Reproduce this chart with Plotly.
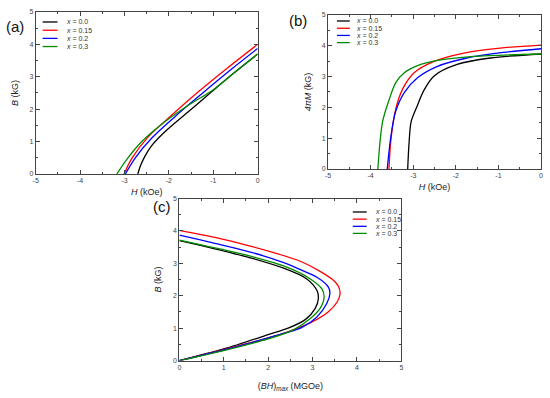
import plotly.graph_objects as go

# ---------------- data ----------------
series_names = ["0.0", "0.15", "0.2", "0.3"]
series_colors = ["#000000", "#ff0000", "#0000ff", "#008c00"]

# (a) B vs H
a_H_00 = [-2.70, -2.64, -2.55, -2.40, -2.09, -1.57, -1.05, -0.53, 0.0]
a_B_00 = [0.00, 0.25, 0.52, 0.85, 1.30, 1.91, 2.52, 3.12, 3.70]
a_H_15 = [-3.01, -2.83, -2.46, -1.94, -1.35, -0.68, 0.0]
a_B_15 = [0.00, 0.49, 1.15, 1.81, 2.52, 3.27, 4.00]
a_H_20 = [-2.98, -2.76, -2.39, -1.87, -1.27, -0.60, 0.0]
a_B_20 = [0.00, 0.49, 1.10, 1.76, 2.46, 3.22, 3.87]
a_H_30 = [-3.17, -2.98, -2.61, -2.09, -1.57, -1.00, -0.50, 0.0]
a_B_30 = [0.00, 0.39, 1.00, 1.61, 2.11, 2.60, 3.15, 3.70]

# (b) 4piM vs H
b_H_00 = [-3.13, -3.10, -3.05, -2.92, -2.75, -2.51, -1.97, -1.19, 0.0]
b_M_00 = [0.00, 0.80, 1.53, 2.00, 2.55, 3.02, 3.39, 3.60, 3.73]
b_H_15 = [-3.57, -3.52, -3.41, -3.25, -2.98, -2.51, -1.81, -0.96, 0.0]
b_M_15 = [0.00, 1.00, 1.95, 2.59, 3.12, 3.49, 3.76, 3.92, 4.02]
b_H_20 = [-3.61, -3.52, -3.41, -3.21, -2.90, -2.43, -1.74, -0.88, 0.0]
b_M_20 = [0.00, 1.10, 1.88, 2.48, 2.96, 3.33, 3.60, 3.78, 3.90]
b_H_30 = [-3.83, -3.72, -3.56, -3.41, -3.21, -2.90, -2.43, -1.58, 0.0]
b_M_30 = [0.00, 1.53, 2.27, 2.80, 3.12, 3.35, 3.52, 3.65, 3.73]

# (c) B vs (BH)
c_BH_00 = [0.0, 1.0, 2.0, 2.45, 2.85, 3.06, 3.13, 3.10, 2.87, 2.35, 1.60, 0.80, 0.0]
c_B_00 = [0.0, 0.36, 0.80, 1.00, 1.28, 1.61, 1.91, 2.16, 2.52, 2.85, 3.17, 3.45, 3.70]
c_BH_15 = [0.0, 1.0, 2.0, 2.5, 3.0, 3.35, 3.55, 3.62, 3.58, 3.45, 3.15, 2.75, 2.20, 1.55, 0.80, 0.0]
c_B_15 = [0.0, 0.34, 0.70, 0.92, 1.20, 1.50, 1.80, 2.06, 2.30, 2.50, 2.77, 3.05, 3.30, 3.55, 3.80, 4.02]
c_BH_20 = [0.0, 1.0, 2.0, 2.4, 2.75, 3.10, 3.32, 3.39, 3.36, 3.10, 2.70, 2.35, 1.60, 0.80, 0.0]
c_B_20 = [0.0, 0.33, 0.70, 0.86, 1.02, 1.35, 1.76, 2.06, 2.26, 2.57, 2.82, 3.02, 3.35, 3.62, 3.87]
c_BH_30 = [0.0, 1.0, 2.0, 2.57, 2.95, 3.17, 3.26, 3.21, 2.95, 2.35, 1.60, 0.80, 0.0]
c_B_30 = [0.0, 0.31, 0.67, 0.95, 1.30, 1.61, 1.96, 2.21, 2.52, 2.92, 3.22, 3.48, 3.72]

x_ticks_neg = [-5, -4, -3, -2, -1, 0]
x_ticklabels_neg = ["-5", "-4", "-3", "-2", "-1", "0"]
ticks_pos = [0, 1, 2, 3, 4, 5]
ticklabels_pos = ["0", "1", "2", "3", "4", "5"]

a_data = [(a_H_00, a_B_00), (a_H_15, a_B_15), (a_H_20, a_B_20), (a_H_30, a_B_30)]
b_data = [(b_H_00, b_M_00), (b_H_15, b_M_15), (b_H_20, b_M_20), (b_H_30, b_M_30)]
c_data = [(c_BH_00, c_B_00), (c_BH_15, c_B_15), (c_BH_20, c_B_20), (c_BH_30, c_B_30)]

W, H = 550, 398
FONT = "Liberation Sans, Arial, sans-serif"

fig = go.Figure()


def px_dom_x(x0, x1):
    return [x0 / W, x1 / W]


def px_dom_y(y0, y1):
    return [1 - y1 / H, 1 - y0 / H]


for data, xa, ya in [(a_data, "x", "y"), (b_data, "x2", "y2"), (c_data, "x3", "y3")]:
    for (xs, ys), col, nm in zip(data, series_colors, series_names):
        fig.add_trace(go.Scatter(
            x=xs, y=ys, mode="lines", xaxis=xa, yaxis=ya,
            line=dict(color=col, width=1.3, shape="spline", smoothing=0.9),
            name="x = " + nm, showlegend=False, hoverinfo="skip"))

axis_common = dict(
    showline=True, linecolor="#444", linewidth=1, mirror="allticks",
    ticks="inside", ticklen=4, tickcolor="#444", tickwidth=1,
    showgrid=False, zeroline=False, ticklabeloverflow="allow",
    tickfont=dict(size=7, color="#444", family=FONT),
    minor=dict(ticks="inside", ticklen=2, tickcolor="#444", dtick=0.5, showgrid=False),
)

title_font = dict(size=9, color="#222", family=FONT)

fig.update_layout(
    width=W, height=H, margin=dict(l=0, r=0, t=0, b=0),
    paper_bgcolor="white", plot_bgcolor="white", showlegend=False,
    xaxis=dict(axis_common, domain=px_dom_x(33, 257), range=[-5, 0], tickvals=x_ticks_neg,
               ticktext=x_ticklabels_neg, anchor="y",
               title=dict(text="<i>H</i> (kOe)", font=title_font, standoff=5)),
    yaxis=dict(axis_common, domain=px_dom_y(8, 173), range=[0, 5], tickvals=ticks_pos,
               ticktext=ticklabels_pos, anchor="x",
               title=dict(text="<i>B</i> (kG)", font=title_font, standoff=9)),
    xaxis2=dict(axis_common, domain=px_dom_x(328, 543), range=[-5, 0], tickvals=x_ticks_neg,
                ticktext=x_ticklabels_neg, anchor="y2",
                title=dict(text="<i>H</i> (kOe)", font=title_font, standoff=5)),
    yaxis2=dict(axis_common, domain=px_dom_y(11, 168), range=[0, 5], tickvals=ticks_pos,
                ticktext=ticklabels_pos, anchor="x2",
                title=dict(text="<i>4πM</i> (kG)", font=title_font, standoff=8)),
    xaxis3=dict(axis_common, domain=px_dom_x(178, 402), range=[0, 5], tickvals=ticks_pos,
                ticktext=ticklabels_pos, anchor="y3",
                title=dict(text="(<i>BH</i>)<sub><i>max</i></sub> (MGOe)", font=title_font, standoff=12)),
    yaxis3=dict(axis_common, domain=px_dom_y(198, 363), range=[0, 5], tickvals=ticks_pos,
                ticktext=ticklabels_pos, anchor="x3",
                title=dict(text="<i>B</i> (kG)", font=title_font, standoff=9)),
)

# panel labels
for txt, x, y in [("(a)", 12, 23), ("(b)", 298, 17), ("(c)", 160, 206)]:
    fig.add_annotation(text=txt, x=x / W, y=1 - y / H, xref="paper", yref="paper",
                       showarrow=False, font=dict(size=15, color="#111", family=FONT),
                       xanchor="center", yanchor="middle")

# compact legends
legend_specs = [
    (40, 55, 62, [18.3, 26.7, 35.0, 43.3]),
    (337, 350, 354, [17.3, 24.7, 32.0, 39.3]),
    (353, 367, 373, [211.7, 219.0, 226.3, 233.5]),
]
for lx0, lx1, tx, rows in legend_specs:
    for ry, col, nm in zip(rows, series_colors, series_names):
        fig.add_shape(type="line", xref="paper", yref="paper",
                      x0=lx0 / W, x1=lx1 / W, y0=1 - ry / H, y1=1 - ry / H,
                      line=dict(color=col, width=1.3))
        fig.add_annotation(text="<i>x</i> = " + nm, x=tx / W, y=1 - ry / H,
                           xref="paper", yref="paper", showarrow=False,
                           xanchor="left", yanchor="middle",
                           font=dict(size=7, color="#333", family=FONT))

fig.write_html(
    "out.html",
    config={"displayModeBar": False, "staticPlot": True},
    post_script=(
        "document.body.style.margin='0px';"
        "document.body.style.overflow='hidden';"
        "document.documentElement.style.overflow='hidden';"
    ),
)
